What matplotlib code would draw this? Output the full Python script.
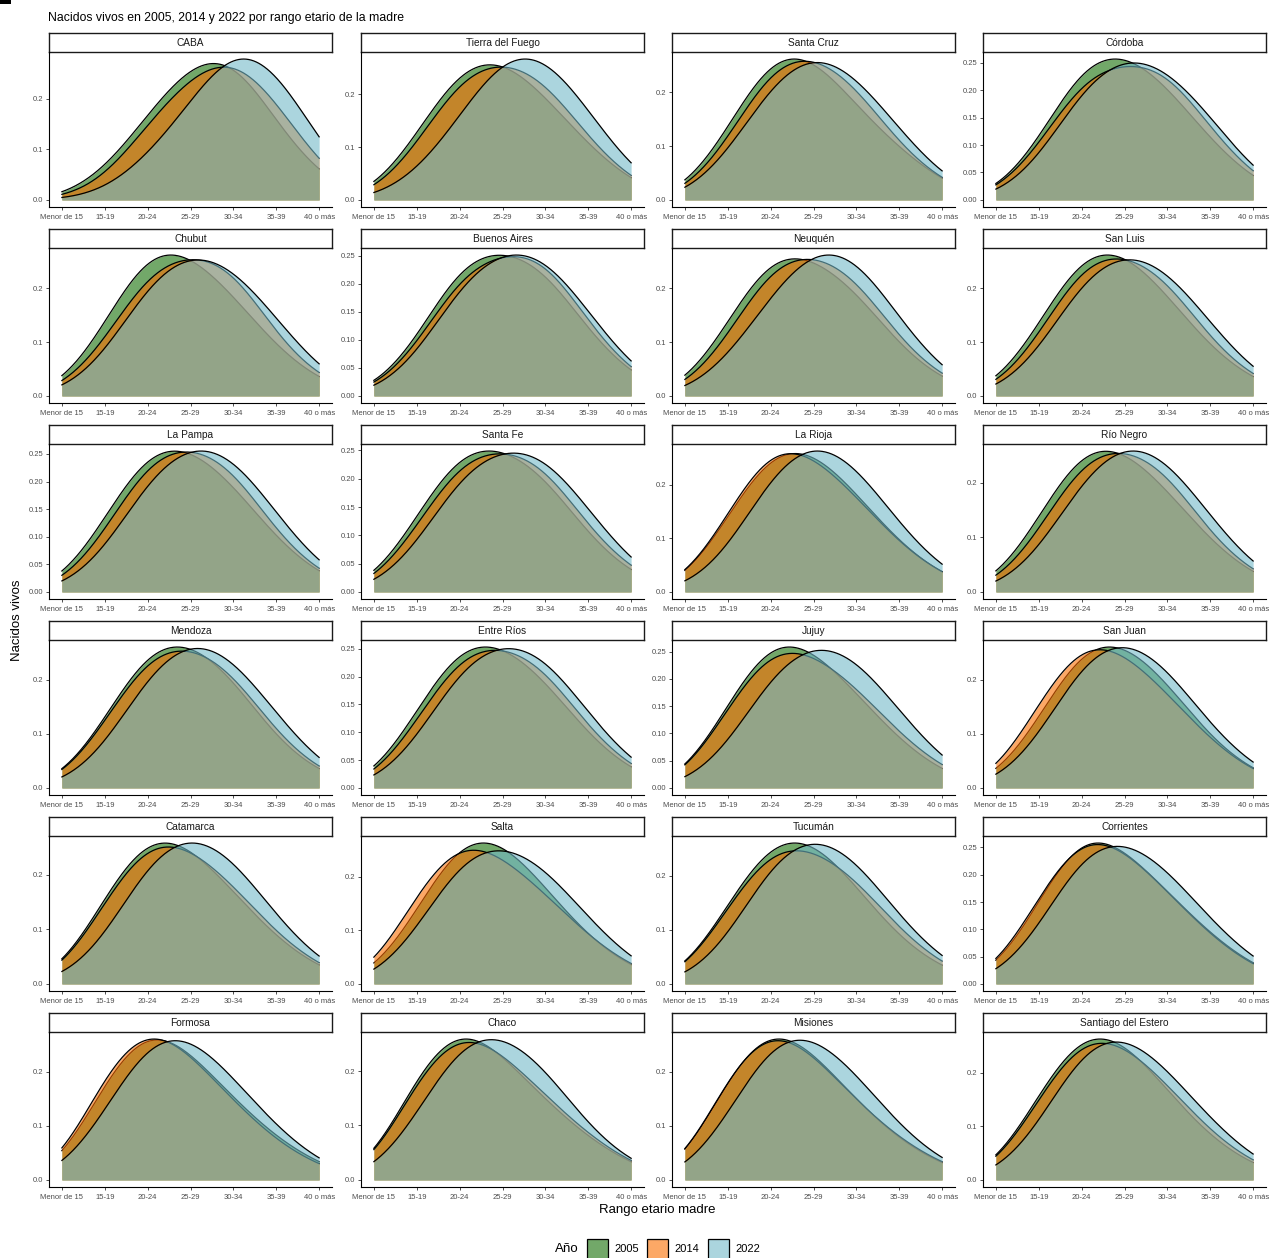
"""
Nacidos vivos por rango etario de la madre - densidades por provincia (2005, 2014, 2022)
"""

import numpy as np
import matplotlib
matplotlib.use("Agg")
import matplotlib.pyplot as plt
from matplotlib.patches import Rectangle

plt.rcParams['font.family'] = ['Liberation Sans', 'DejaVu Sans']

# --- datos: % de nacidos vivos por rango etario de la madre ---
rangos = ["Menor de 15", "15-19", "20-24", "25-29", "30-34", "35-39", "40 o más"]
anios = ["2005", "2014", "2022"]

provincias = ["CABA", "Tierra del Fuego", "Santa Cruz", "Córdoba",
              "Chubut", "Buenos Aires", "Neuquén", "San Luis",
              "La Pampa", "Santa Fe", "La Rioja", "Río Negro",
              "Mendoza", "Entre Ríos", "Jujuy", "San Juan",
              "Catamarca", "Salta", "Tucumán", "Corrientes",
              "Formosa", "Chaco", "Misiones", "Santiago del Estero"]

pct_2005 = [
    [0.2, 5.0, 17.0, 28.0, 31.0, 14.5, 4.3],
    [0.4, 11.8, 27.0, 28.0, 19.8, 10.0, 3.0],
    [0.5, 12.4, 29.5, 28.0, 17.1, 9.5, 3.0],
    [0.4, 9.6, 27.0, 28.0, 21.3, 10.5, 3.2],
    [0.5, 12.5, 30.0, 27.0, 19.0, 8.5, 2.5],
    [0.4, 8.8, 26.0, 26.5, 24.2, 10.8, 3.3],
    [0.5, 13.0, 29.0, 26.0, 20.4, 8.5, 2.6],
    [0.5, 12.5, 29.0, 28.0, 19.0, 8.3, 2.6],
    [0.5, 12.8, 28.0, 27.0, 20.0, 9.0, 2.7],
    [0.5, 13.0, 27.0, 26.0, 21.5, 9.2, 2.8],
    [0.6, 13.5, 28.5, 27.5, 18.5, 8.6, 2.8],
    [0.5, 13.0, 29.0, 27.0, 19.0, 8.8, 2.7],
    [0.4, 12.0, 28.0, 28.0, 21.0, 8.0, 2.6],
    [0.5, 13.5, 28.0, 26.5, 20.0, 8.8, 2.7],
    [0.6, 15.0, 30.0, 26.0, 17.5, 8.3, 2.6],
    [0.5, 12.0, 28.5, 28.0, 20.0, 8.5, 2.7],
    [0.6, 16.0, 30.0, 26.0, 17.0, 8.0, 2.6],
    [0.6, 13.0, 29.5, 28.0, 18.0, 8.2, 2.7],
    [0.6, 14.5, 28.5, 28.0, 18.0, 7.8, 2.6],
    [0.7, 14.5, 31.0, 25.0, 17.0, 8.8, 3.0],
    [0.8, 19.0, 31.0, 24.0, 15.0, 7.5, 2.7],
    [0.9, 20.5, 31.0, 23.0, 14.5, 7.5, 2.6],
    [0.9, 20.0, 31.0, 24.0, 14.5, 7.0, 2.6],
    [0.7, 16.0, 30.0, 27.0, 16.5, 7.4, 2.4],
]

pct_2014 = [
    [0.15, 3.0, 15.3, 25.0, 30.5, 20.0, 6.0],
    [0.3, 9.5, 25.0, 27.0, 24.0, 11.0, 3.2],
    [0.4, 10.0, 27.0, 28.0, 22.0, 9.5, 3.1],
    [0.4, 8.8, 24.0, 25.0, 25.5, 12.5, 3.8],
    [0.4, 9.2, 25.0, 26.5, 25.9, 10.0, 3.0],
    [0.4, 7.7, 23.5, 25.5, 27.0, 12.2, 3.7],
    [0.4, 10.0, 26.5, 27.0, 23.5, 9.5, 3.1],
    [0.4, 10.0, 27.0, 27.0, 23.0, 9.5, 3.0],
    [0.4, 9.8, 26.0, 27.0, 24.0, 9.7, 3.1],
    [0.4, 11.0, 25.0, 25.5, 24.0, 10.5, 3.6],
    [0.6, 14.0, 30.0, 26.0, 18.0, 8.5, 2.9],
    [0.4, 10.0, 26.5, 27.0, 23.5, 9.5, 3.1],
    [0.4, 11.5, 26.5, 27.0, 22.5, 9.2, 2.9],
    [0.4, 11.5, 26.0, 26.0, 23.0, 9.8, 3.3],
    [0.6, 14.5, 28.0, 25.0, 19.0, 9.5, 3.4],
    [0.6, 16.0, 30.0, 26.0, 18.0, 8.5, 2.6],
    [0.6, 15.0, 28.5, 25.5, 18.5, 8.7, 3.0],
    [0.7, 17.5, 29.0, 24.0, 17.0, 8.5, 3.0],
    [0.6, 14.0, 27.0, 25.5, 20.0, 9.5, 3.2],
    [0.7, 16.0, 30.0, 25.0, 17.0, 8.5, 2.8],
    [0.9, 21.0, 31.0, 23.5, 14.5, 6.8, 2.3],
    [0.9, 19.5, 29.5, 23.5, 15.5, 8.0, 2.8],
    [0.9, 20.5, 30.5, 23.5, 14.5, 7.3, 2.8],
    [0.7, 15.0, 29.0, 26.0, 18.0, 8.5, 2.8],
]

pct_2022 = [
    [0.05, 1.2, 8.4, 19.0, 33.0, 27.5, 11.0],
    [0.1, 4.4, 15.5, 29.0, 29.0, 17.0, 5.0],
    [0.2, 7.7, 22.5, 29.0, 23.8, 13.0, 3.8],
    [0.2, 6.1, 21.5, 27.5, 24.7, 15.5, 4.5],
    [0.2, 6.4, 22.0, 28.0, 24.7, 14.5, 4.2],
    [0.2, 5.9, 21.0, 27.0, 26.4, 15.0, 4.5],
    [0.2, 6.2, 19.0, 29.0, 27.6, 14.0, 4.0],
    [0.2, 7.0, 23.0, 28.0, 24.5, 13.5, 3.8],
    [0.2, 6.2, 21.5, 28.0, 26.0, 14.0, 4.1],
    [0.2, 7.2, 22.0, 26.0, 25.5, 14.5, 4.6],
    [0.2, 6.4, 23.0, 30.0, 24.5, 12.2, 3.7],
    [0.2, 6.2, 21.5, 29.0, 25.5, 13.6, 4.0],
    [0.2, 6.3, 22.0, 29.0, 25.0, 13.5, 4.0],
    [0.2, 7.5, 23.0, 27.0, 25.0, 13.0, 4.0],
    [0.2, 6.5, 22.0, 28.0, 25.0, 14.0, 4.6],
    [0.3, 8.0, 25.0, 29.0, 23.0, 11.0, 3.5],
    [0.3, 7.0, 24.0, 29.0, 24.0, 12.0, 3.7],
    [0.3, 9.0, 25.0, 27.0, 22.5, 12.0, 4.0],
    [0.2, 7.0, 24.0, 29.0, 24.0, 12.0, 4.0],
    [0.3, 9.0, 26.0, 27.5, 21.5, 11.5, 4.0],
    [0.5, 12.0, 28.0, 28.0, 19.0, 9.5, 3.0],
    [0.4, 11.0, 27.0, 27.5, 21.0, 9.0, 2.8],
    [0.4, 11.0, 28.0, 28.0, 20.0, 9.5, 3.1],
    [0.3, 9.0, 26.5, 28.5, 21.0, 11.0, 3.7],
]

# paneles cuyo eje y va de 0.05 en 0.05
ticks_finos = ["Córdoba", "Buenos Aires", "La Pampa", "Santa Fe",
               "Entre Ríos", "Jujuy", "Corrientes"]

colores = {"2005": "#146e05", "2014": "#fa6e00", "2022": "#73b9c8"}
alfa = 0.6
bw = 0.8

W, H = 1270, 1258
fig = plt.figure(figsize=(W / 100, H / 100), dpi=100)


def rect(x0, y0, x1, y1):
    # caja en pixeles desde arriba-izquierda -> coords de figura
    return [x0 / W, 1 - y1 / H, (x1 - x0) / W, (y1 - y0) / H]


xs = np.linspace(1, 7, 512)
pos = np.arange(1, len(rangos) + 1)


def densidad(pct):
    w = np.asarray(pct, float)
    w = w / w.sum()
    z = (xs[:, None] - pos[None, :]) / bw
    return (np.exp(-0.5 * z ** 2) / np.sqrt(2 * np.pi) / bw) @ w


series = {"2005": pct_2005, "2014": pct_2014, "2022": pct_2022}

col_x = [49, 361, 672, 983]
ancho = 283

for k, prov in enumerate(provincias):
    r, c = divmod(k, 4)
    x0 = col_x[c]
    top = 33 + 196 * r

    # tira con el nombre
    sax = fig.add_axes(rect(x0, top, x0 + ancho, top + 19))
    sax.set_xticks([])
    sax.set_yticks([])
    for s in sax.spines.values():
        s.set_linewidth(1.0)
        s.set_color('#1a1a1a')
    sax.text(0.5, 0.5, prov, ha='center', va='center', fontsize=7.3,
             color='#1a1a1a', transform=sax.transAxes)

    ax = fig.add_axes(rect(x0, top + 19, x0 + ancho, top + 174))
    ymax = 0
    z = 2
    for a in anios:
        d = densidad(series[a][k])
        ymax = max(ymax, d.max())
        ax.fill_between(xs, 0, d, color=colores[a], alpha=alfa, lw=0, zorder=z)
        ax.plot(xs, d, color='black', lw=0.9, zorder=z + 0.5)
        z += 1

    ax.set_xlim(0.7, 7.3)
    ax.set_ylim(-0.05 * ymax, 1.05 * ymax)
    ax.set_xticks(pos)
    ax.set_xticklabels(rangos)
    if prov in ticks_finos:
        yt = [v for v in np.arange(0, 0.31, 0.05) if v <= 1.05 * ymax]
        ax.set_yticks(yt)
        ax.set_yticklabels([f"{v:.2f}" for v in yt])
    else:
        yt = [v for v in np.arange(0, 0.41, 0.1) if v <= 1.05 * ymax]
        ax.set_yticks(yt)
        ax.set_yticklabels([f"{v:.1f}" for v in yt])

    ax.spines['top'].set_visible(False)
    ax.spines['right'].set_visible(False)
    for s in ['left', 'bottom']:
        ax.spines[s].set_linewidth(0.8)
        ax.spines[s].set_color('black')
    ax.tick_params(axis='both', length=2.5, width=0.6, color='#333333',
                   labelsize=5.5, labelcolor='#4d4d4d', pad=1.8)
    ax.tick_params(axis='x', pad=2.8)
    ax.set_facecolor('none')

# textos generales
fig.text(48 / W, 1 - 18 / H, "Nacidos vivos en 2005, 2014 y 2022 por rango etario de la madre",
         ha='left', va='center', fontsize=8.8, color='black')
fig.text(17 / W, 1 - 620 / H, "Nacidos vivos", rotation=90, ha='center', va='center',
         fontsize=9.5)
fig.text(657 / W, 1 - 1210 / H, "Rango etario madre", ha='center', va='center',
         fontsize=9.5)

# leyenda
fig.text(567 / W, 1 - 1249 / H, "Año", ha='center', va='center', fontsize=9.5)
key_x = [587, 647, 708]
lab_x = [614, 674, 735]
for a, kx, lx in zip(anios, key_x, lab_x):
    fig.patches.append(Rectangle((kx / W, 1 - 1260 / H), 21 / W, 21 / H,
                                 transform=fig.transFigure, facecolor=colores[a],
                                 alpha=alfa, edgecolor='none'))
    fig.patches.append(Rectangle((kx / W, 1 - 1260 / H), 21 / W, 21 / H,
                                 transform=fig.transFigure, facecolor='none',
                                 edgecolor='black', lw=0.9))
    fig.text(lx / W, 1 - 1249 / H, a, ha='left', va='center', fontsize=8)

# resto de un elemento cortado arriba a la izquierda
fig.patches.append(Rectangle((0, 1 - 4 / H), 11 / W, 4 / H, transform=fig.transFigure,
                             facecolor='black', edgecolor='none'))

fig.savefig('out.png', dpi=100)
